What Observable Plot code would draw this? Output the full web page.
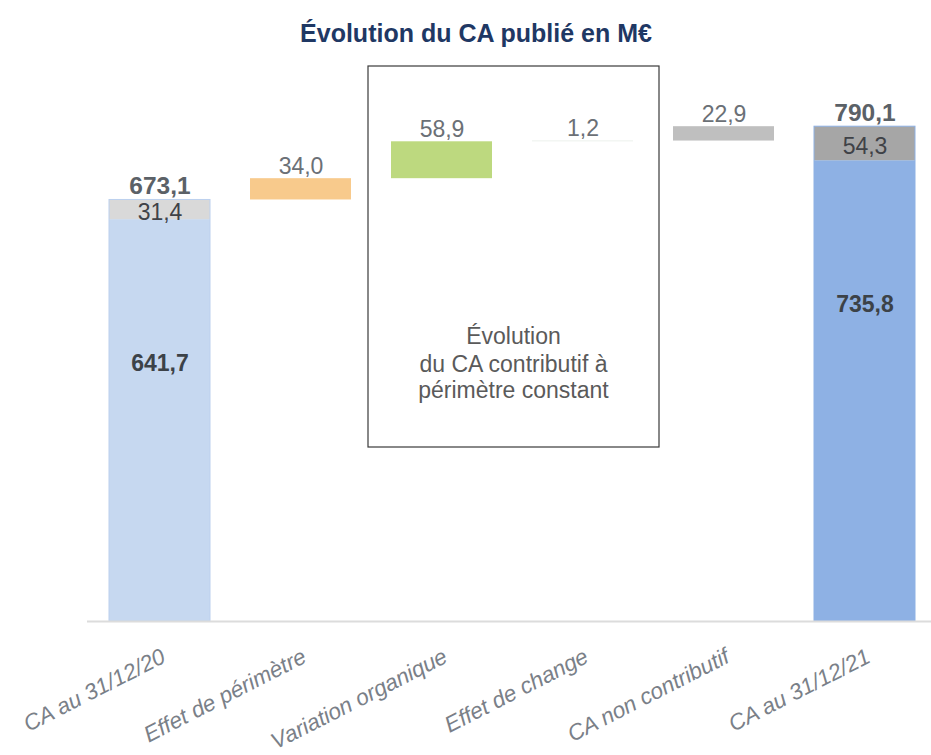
<!DOCTYPE html>
<html><head><meta charset="utf-8">
<script src="https://cdn.jsdelivr.net/npm/d3@7"></script>
<script src="https://cdn.jsdelivr.net/npm/@observablehq/plot@0.6"></script>
<style>
body{margin:0;background:#fff;font-family:"Liberation Sans",Arial,sans-serif;}
#title{position:relative;height:60px;width:931px;}
#title span{position:absolute;left:476px;top:21px;transform:translateX(-50%);white-space:nowrap;font-size:25px;line-height:25px;font-weight:bold;color:#1f3864;}
</style></head><body>
<div id="title"><span>Évolution du CA publié en M€</span></div>
<div id="chart"></div>
<script>
// ---- data ----
const categories = ["CA au 31/12/20","Effet de périmètre","Variation organique","Effet de change","CA non contributif","CA au 31/12/21"];
const startTotal = 673.1;
const startParts = [641.7, 31.4];
const deltas = [34.0, 58.9, 1.2, 22.9];
const endTotal = 790.1;
const endParts = [735.8, 54.3];
const deltaColors = ["#f8ca8c","#bdd97f","#e6ece6","#bfbfbf"];
const boxedCategories = ["Variation organique","Effet de change"];
const boxLines = ["Évolution","du CA contributif à","périmètre constant"];

const fmt = v => d3.format(".1f")(v).replace(".", ",");

// ---- build tables ----
const segments = [];
const cStart = categories[0], cEnd = categories[5];
segments.push({cat:cStart, y1:0, y2:startParts[0], fill:"#c6d8f0"});
segments.push({cat:cStart, y1:startParts[0], y2:startParts[0]+startParts[1], fill:"#d9d9d9"});
let acc = startTotal;
const deltaRows = deltas.map((d,i) => {
  const r = {cat:categories[i+1], y1:acc, y2:acc+d, value:d, fill:deltaColors[i]};
  acc += d; return r;
});
segments.push(...deltaRows);
segments.push({cat:cEnd, y1:0, y2:endParts[0], fill:"#8eb1e4"});
segments.push({cat:cEnd, y1:endParts[0], y2:endParts[0]+endParts[1], fill:"#a6a6a6"});

const totals = [
  {cat:cStart, total:startTotal, stroke:"#bcd0ee"},
  {cat:cEnd, total:endTotal, stroke:"#8eb1e4"}
];
const topParts = [
  {cat:cStart, y:startParts[0] + startParts[1]/2, value:startParts[1]},
  {cat:cEnd, y:endParts[0] + endParts[1]/2, value:endParts[1]}
];
const baseParts = [
  {cat:cStart, value:startParts[0]},
  {cat:cEnd, value:endParts[0]}
];

// ---- annotation box ----
function boxMark(index, scales, values, dimensions) {
  const x = scales.x, bw = x.bandwidth ? x.bandwidth() : 101;
  const y0 = scales.y(0);
  const left = x(boxedCategories[0]) - 23;
  const right = x(boxedCategories[1]) + bw + 26;
  const g = d3.create("svg:g");
  g.append("rect").attr("x", left).attr("y", y0 - 555).attr("width", right-left).attr("height", 381)
    .attr("fill","none").attr("stroke","#3a3a3a").attr("stroke-width",1.2);
  const cx = (left+right)/2;
  const bases = [y0-277, y0-249, y0-223];
  boxLines.forEach((t,i) => {
    g.append("text").attr("x", cx).attr("y", bases[i]).attr("text-anchor","middle")
      .attr("font-size",23).attr("fill","#5a5a5a").attr("font-family","Liberation Sans, Arial, sans-serif").text(t);
  });
  return g.node();
}

const plot = Plot.plot({
  width: 931, height: 695,
  marginLeft: 87, marginRight: 0, marginTop: 60, marginBottom: 134,
  style: {fontFamily: "Liberation Sans, Arial, sans-serif", background: "#fff"},
  x: {domain: categories, paddingInner: 0.287, paddingOuter: 0.124, align: 0.57, axis: null},
  y: {domain: [0, 800], axis: null},
  color: {type: "identity"},
  marks: [
    boxMark,
    Plot.barY(segments, {x:"cat", y1:"y1", y2:"y2", fill:"fill"}),
    Plot.barY(totals, {x:"cat", y:"total", fill:"none", stroke:"stroke", strokeWidth:1}),
    Plot.ruleY([0], {stroke:"#dcdcdc", strokeWidth:2}),
    Plot.text(totals, {x:"cat", y:"total", text: d => fmt(d.total), lineAnchor:"bottom", dy:-6, fontSize:24.5, fontWeight:"bold", fill:"#5b6167"}),
    Plot.text(deltaRows, {x:"cat", y:"y2", text: d => fmt(d.value), lineAnchor:"bottom", dy:-5, fontSize:23, fill:"#6b7076"}),
    Plot.text(topParts, {x:"cat", y:"y", text: d => fmt(d.value), lineAnchor:"middle", dy:3, fontSize:23, fill:"#3f4247"}),
    Plot.text(baseParts, {x:"cat", y: d => d.value - 230, text: d => fmt(d.value), lineAnchor:"middle", fontSize:23, fontWeight:"bold", fill:"#3c4248"}),
    Plot.text(categories, {x: d => d, y: () => 0, text: d => d, rotate:-27, textAnchor:"end", lineAnchor:"bottom", dx:7, dy:40, fontSize:22.5, fontStyle:"italic", fill:"#7a8088"})
  ]
});
document.getElementById("chart").appendChild(plot);
</script>
</body></html>
